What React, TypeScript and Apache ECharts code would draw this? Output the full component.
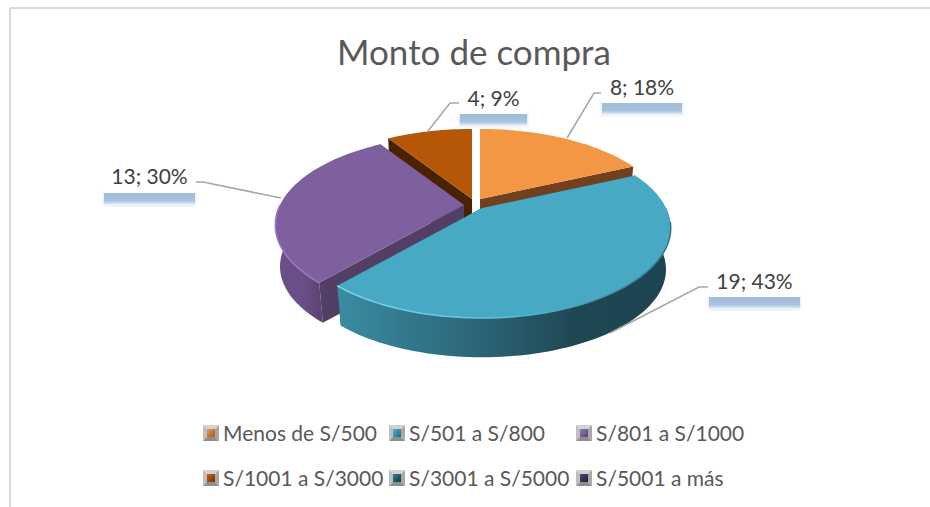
import React, { useEffect, useRef } from "react";
import * as echarts from "echarts";

// ---- data ----
const titleText = "Monto de compra";
const categories = ["Menos de S/500", "S/501 a S/800", "S/801 a S/1000", "S/1001 a S/3000", "S/3001 a S/5000", "S/5001 a más"];
const values = [8, 19, 13, 4, 0, 0];

// ---- styles ----
const topColors = ["#F49745", "#47A9C3", "#7E609E", "#B65708", "#276A7C", "#4D3B62"];
const cutColors = ["#72401C", "#1D4450", "#533E66", "#4B2200", "#1D4450", "#2F2440"];
const wallStops = [
  [[0, "#B06A30"], [1, "#8A4E20"]],
  [[0, "#3A8CA3"], [0.45, "#2A6274"], [0.72, "#1E4653"], [1, "#1D4450"]],
  [[0, "#6B4F88"], [0.6, "#6A4E86"], [1, "#5A4270"]],
  [[0, "#7A3A05"], [1, "#5A2A03"]],
  [[0, "#1D4450"], [1, "#1D4450"]],
  [[0, "#2F2440"], [1, "#2F2440"]],
];
const iconColors = [["#F49745", "#A85A1C"], ["#4BB6D2", "#22667A"], ["#9A7CC0", "#54406E"], ["#C9640F", "#6A3203"], ["#2F7F94", "#123A46"], ["#5A4675", "#241A36"]];
const drawOrder = [3, 2, 0, 1, 4, 5];

// ---- 3D geometry ----
const CX = 472, CY = 204, RX = 184, RY = 85.6, PERSP = 0.222, DEPTH = 42, BOTTOM_SCALE = 0.975;
const EXPLODE = [[8, -5], [10, 4], [-8, 1], [0, -5], [0, 0], [0, 0]];

// ---- labels ----
const labelBoxes = [
  { x0: 601, x1: 683, y0: 70, y1: 103, ty: 86, line: [[601, 93], [594, 93], [567, 138]] },
  { x0: 708, x1: 801, y0: 266, y1: 297, ty: 280, line: [[712, 287], [699, 287], [610, 333]] },
  { x0: 103, x1: 196, y0: 161, y1: 193, ty: 175, line: [[192, 182], [203, 182], [281, 198]] },
  { x0: 459, x1: 528, y0: 81, y1: 114, ty: 97, line: [[462, 103], [450, 103], [428, 131]] },
];

// ---- legend ----
const legendCols = [203, 389, 576];
const legendIconTop = 425;
const legendRowGap = 45;
const LEGEND_LINE = 24;
const ICON = 16;

function project(ax: number, ay: number, theta: number, s = 1, dy = 0): number[] {
  const x = Math.sin(theta), y = Math.cos(theta), w = 1 + PERSP * y;
  return [ax + (RX * s * x) / w, ay - (RY * s * y) / w + dy];
}
function arc(ax: number, ay: number, a0: number, a1: number, s = 1, dy = 0): number[][] {
  const n = Math.max(8, Math.ceil(Math.abs(a1 - a0) / 0.03));
  const pts: number[][] = [];
  for (let i = 0; i <= n; i++) pts.push(project(ax, ay, a0 + ((a1 - a0) * i) / n, s, dy));
  return pts;
}
const total = values.reduce((a, b) => a + b, 0);
const angles: number[][] = [];
values.reduce((acc, v) => {
  const next = acc + (v / total) * Math.PI * 2;
  angles.push([acc, next]);
  return next;
}, 0);

function grad(stops: any[], x = 1, y = 0) {
  return new echarts.graphic.LinearGradient(0, 0, x, y, stops.map((s: any[]) => ({ offset: s[0], color: s[1] })));
}

function renderSlice(i: number) {
  if (values[i] === 0) return null;
  const [a0, a1] = angles[i];
  const ax = CX + EXPLODE[i][0], ay = CY + EXPLODE[i][1];
  const top = arc(ax, ay, a0, a1);
  const apexB = [ax, ay + DEPTH];
  const cutFace = (a: number) => [[ax, ay], project(ax, ay, a), project(ax, ay, a, BOTTOM_SCALE, DEPTH), apexB];
  const children: any[] = [
    { type: "polygon", shape: { points: cutFace(a0) }, style: { fill: cutColors[i] } },
    { type: "polygon", shape: { points: cutFace(a1) }, style: { fill: cutColors[i] } },
  ];
  const w0 = Math.max(a0, Math.PI * 0.5), w1 = Math.min(a1, Math.PI * 1.5);
  if (w1 > w0) {
    const wallTop = arc(ax, ay, w0, w1);
    const wallBottom = arc(ax, ay, w0, w1, BOTTOM_SCALE, DEPTH);
    children.push({ type: "polygon", shape: { points: wallTop.concat(wallBottom.slice().reverse()) }, style: { fill: grad(wallStops[i]) } });
  }
  children.push({ type: "polygon", shape: { points: [[ax, ay], ...top] }, style: { fill: topColors[i] } });
  if (i === 1) {
    children.push({
      type: "polyline",
      shape: { points: arc(ax, ay, a1, Math.PI * 0.55) },
      style: { fill: "none", lineWidth: 1.5, stroke: grad([[0, "#7FD6EC"], [0.5, "#5FC0D8"], [1, "#2E7284"]]) },
    });
  }
  if (i === 2) {
    children.push({
      type: "polyline",
      shape: { points: arc(ax, ay, a0, Math.PI * 1.5) },
      style: { fill: "none", lineWidth: 1.5, stroke: "#9B7CC0" },
    });
  }
  return { type: "group", children };
}

function renderLabel(i: number) {
  const v = values[i];
  if (v === 0 || !labelBoxes[i]) return null;
  const b = labelBoxes[i];
  const pct = Math.round((v / total) * 100);
  return {
    type: "group",
    children: [
      { type: "polyline", shape: { points: b.line }, style: { fill: "none", stroke: "#A6A6A6", lineWidth: 1.5 } },
      {
        type: "rect",
        shape: { x: b.x0 + 1, y: b.y1 - 3, width: b.x1 - b.x0 - 2, height: 15 },
        style: { fill: grad([[0, "#9DB9DC"], [0.7, "#A8C1E0"], [0.9, "#D5E1F0"], [1, "#FFFFFF"]], 0, 1), shadowBlur: 3, shadowColor: "rgba(163,189,222,0.6)" },
      },
      { type: "rect", shape: { x: b.x0, y: b.y0, width: b.x1 - b.x0, height: b.y1 - b.y0 }, style: { fill: "#FFFFFF" } },
      {
        type: "text",
        style: { x: (b.x0 + b.x1) / 2, y: b.ty, text: `${v}; ${pct}%`, fill: "#404040", font: "21px Lato", align: "center", verticalAlign: "middle" },
      },
    ],
  };
}

export default function App() {
  const ref = useRef<HTMLDivElement>(null);
  useEffect(() => {
    const chart = echarts.init(ref.current!, null, { renderer: "svg" });
    const sliceSeries = categories.map((name, i) => ({
      type: "custom",
      name,
      coordinateSystem: "none",
      silent: true,
      z: 2 + drawOrder.indexOf(i),
      itemStyle: { color: topColors[i] },
      data: [values[i]],
      renderItem: () => renderSlice(i),
    }));
    const labelSeries = {
      type: "custom",
      name: "etiquetas",
      coordinateSystem: "none",
      silent: true,
      z: 20,
      data: values,
      renderItem: (p: any) => renderLabel(p.dataIndex),
    };
    const legends = legendCols.map((x, c) => ({
      orient: "vertical",
      left: x,
      top: legendIconTop + ICON / 2 - LEGEND_LINE / 2 - 1,
      itemWidth: ICON,
      itemHeight: ICON,
      itemGap: legendRowGap - LEGEND_LINE,
      icon: "rect",
      selectedMode: false,
      padding: 0,
      itemStyle: { color: "rgba(0,0,0,0)" },
      textStyle: { color: "#595959", fontFamily: "Lato", fontSize: 21, lineHeight: LEGEND_LINE, padding: [0, 0, 0, -1] },
      data: [categories[c], categories[c + 3]],
    }));
    const graphic: any[] = [
      { type: "line", shape: { x1: 10, y1: 8, x2: 930, y2: 8 }, style: { stroke: "#D9D9D9", lineWidth: 2 } },
      { type: "line", shape: { x1: 10, y1: 8, x2: 10, y2: 507 }, style: { stroke: "#D9D9D9", lineWidth: 2 } },
    ];
    categories.forEach((_, i) => {
      const x = legendCols[i % 3];
      const y = legendIconTop + legendRowGap * Math.floor(i / 3);
      const m = 4;
      graphic.push(
        { type: "polygon", z: 30, shape: { points: [[x, y], [x + ICON, y], [x + ICON - m, y + m], [x + m, y + m]] }, style: { fill: "#D2D2D2" } },
        { type: "polygon", z: 30, shape: { points: [[x, y], [x + m, y + m], [x + m, y + ICON - m], [x, y + ICON]] }, style: { fill: "#BEBEBE" } },
        { type: "polygon", z: 30, shape: { points: [[x + ICON, y], [x + ICON, y + ICON], [x + ICON - m, y + ICON - m], [x + ICON - m, y + m]] }, style: { fill: "#A8A8A8" } },
        { type: "polygon", z: 30, shape: { points: [[x, y + ICON], [x + ICON, y + ICON], [x + ICON - m, y + ICON - m], [x + m, y + ICON - m]] }, style: { fill: "#8E8E8E" } },
        { type: "rect", z: 30, shape: { x: x + m, y: y + m, width: ICON - 2 * m, height: ICON - 2 * m }, style: { fill: grad([[0, iconColors[i][0]], [1, iconColors[i][1]]], 1, 1) } },
      );
    });
    chart.setOption({
      animation: false,
      backgroundColor: "#FFFFFF",
      title: {
        text: titleText,
        left: 474,
        top: 33,
        textAlign: "center",
        padding: 0,
        textStyle: { color: "#595959", fontFamily: "Lato", fontSize: 35, fontWeight: "normal" },
      },
      legend: legends,
      graphic,
      series: [...sliceSeries, labelSeries],
    });
    return () => chart.dispose();
  }, []);
  return <div ref={ref} style={{ position: "fixed", left: 0, top: 0, width: 930, height: 507 }} />;
}
